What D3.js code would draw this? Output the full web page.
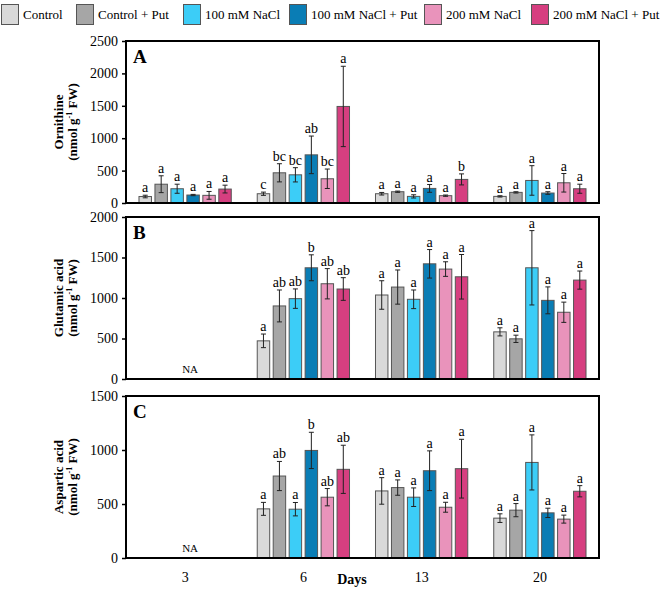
<!DOCTYPE html>
<html>
<head>
<meta charset="utf-8">
<script src="https://cdn.jsdelivr.net/npm/d3@7"></script>
<style>
body { margin: 0; background: #fff; }
text { font-family: "Liberation Serif", "Times New Roman", serif; fill: #000; }
</style>
</head>
<body>
<div class="chart"></div>
<script>
var days = ["3", "6", "13", "20"];
var treatments = ["Control", "Control + Put", "100 mM NaCl", "100 mM NaCl + Put", "200 mM NaCl", "200 mM NaCl + Put"];
var colors = ["#d9d9d9", "#a6a6a6", "#3ccdf7", "#0a7db5", "#e993bb", "#d63f80"];

// one row per day, one value per treatment (null = not analysed)
var ornithineMean = [
  [100, 290, 220, 123, 118, 215],
  [143, 466, 435, 743, 374, 1490],
  [143, 174, 102, 225, 113, 364],
  [102, 164, 348, 154, 312, 220]
];
var ornithineErr = [
  [20, 130, 70, 10, 60, 60],
  [25, 140, 110, 290, 150, 620],
  [20, 10, 25, 60, 10, 85],
  [10, 10, 228, 20, 143, 70]
];
var ornithineLetters = [
  ["a", "a", "a", "a", "a", "a"],
  ["c", "bc", "bc", "ab", "bc", "a"],
  ["a", "a", "a", "a", "a", "b"],
  ["a", "a", "a", "a", "a", "a"]
];

var glutamicMean = [
  null,
  [471, 902, 992, 1373, 1176, 1111],
  [1037, 1135, 984, 1422, 1357, 1262],
  [582, 496, 1373, 971, 824, 1221]
];
var glutamicErr = [
  null,
  [84, 197, 120, 160, 187, 140],
  [176, 211, 115, 176, 90, 275],
  [50, 45, 459, 166, 125, 112]
];
var glutamicLetters = [
  null,
  ["a", "ab", "ab", "b", "ab", "ab"],
  ["a", "a", "a", "a", "a", "a"],
  ["a", "a", "a", "a", "a", "a"]
];

var asparticMean = [
  null,
  [455, 759, 452, 996, 563, 821],
  [621, 652, 563, 808, 470, 827],
  [369, 443, 885, 418, 360, 618]
];
var asparticErr = [
  null,
  [60, 135, 62, 168, 80, 223],
  [123, 71, 86, 184, 46, 272],
  [40, 61, 255, 43, 37, 52]
];
var asparticLetters = [
  null,
  ["a", "ab", "a", "b", "ab", "ab"],
  ["a", "a", "a", "a", "a", "a"],
  ["a", "a", "a", "a", "a", "a"]
];

var panels = [
  {id: "A", title: "Ornithine", max: 2500, top: 41, bottom: 203, mean: ornithineMean, err: ornithineErr, letters: ornithineLetters},
  {id: "B", title: "Glutamic acid", max: 2000, top: 217, bottom: 379, mean: glutamicMean, err: glutamicErr, letters: glutamicLetters},
  {id: "C", title: "Aspartic acid", max: 1500, top: 396, bottom: 558, mean: asparticMean, err: asparticErr, letters: asparticLetters}
];

var width = 661,
    height = 589,
    left = 126,
    right = 599;

var svg = d3.select(".chart").append("svg")
    .attr("width", width)
    .attr("height", height);

var x0 = d3.scaleBand()
    .domain(days)
    .range([left, right])
    .paddingInner(0.19)
    .paddingOuter(0.095);

var x1 = d3.scaleBand()
    .domain(treatments)
    .range([0, x0.bandwidth()])
    .paddingInner(0.22)
    .paddingOuter(0.11);

// legend
var legendX = [1, 76, 183, 289, 424, 531];
var legend = svg.append("g").attr("class", "legend");
treatments.forEach(function(t, i) {
  legend.append("rect")
    .attr("x", legendX[i] + 0.5).attr("y", 4.5)
    .attr("width", 17).attr("height", 20)
    .attr("fill", colors[i])
    .attr("stroke", "#555").attr("stroke-width", 1);
  legend.append("text")
    .attr("x", legendX[i] + 22).attr("y", 19)
    .attr("font-size", 13)
    .text(t);
});

panels.forEach(function(p, pi) {
  var y = d3.scaleLinear().domain([0, p.max]).range([p.bottom, p.top]);
  var g = svg.append("g").attr("class", "panel");

  g.append("g")
    .attr("transform", "translate(" + left + ",0)")
    .call(d3.axisLeft(y).tickValues(d3.range(0, p.max + 1, 500)).tickFormat(d3.format("d"))
      .tickSize(4).tickSizeOuter(0).tickPadding(4))
    .call(function(a) { a.select(".domain").remove(); })
    .call(function(a) {
      a.selectAll("text").attr("font-size", 14).attr("font-family", "Liberation Serif").attr("fill", "#000");
      a.selectAll("line").attr("stroke", "#000").attr("stroke-width", 1.5);
    });

  days.forEach(function(day, di) {
    var gx = x0(day);
    if (p.mean[di] === null) {
      g.append("text")
        .attr("x", gx + x0.bandwidth() / 2 + 5)
        .attr("y", p.bottom - 6)
        .attr("text-anchor", "middle")
        .attr("font-size", 11)
        .text("NA");
      return;
    }
    treatments.forEach(function(t, ti) {
      var v = p.mean[di][ti], e = p.err[di][ti];
      var bx = gx + x1(t), bw = x1.bandwidth(), cx = bx + bw / 2;
      g.append("rect")
        .attr("x", bx).attr("y", y(v))
        .attr("width", bw).attr("height", p.bottom - y(v))
        .attr("fill", colors[ti])
        .attr("stroke", "#555").attr("stroke-width", 1);
      g.append("path")
        .attr("d", "M" + cx + "," + y(v + e) + "V" + y(v - e) +
                   "M" + (cx - 2.5) + "," + y(v + e) + "h5" +
                   "M" + (cx - 2.5) + "," + y(v - e) + "h5")
        .attr("stroke", "#222").attr("stroke-width", 1).attr("fill", "none");
      g.append("text")
        .attr("x", cx).attr("y", y(v + e) - 3)
        .attr("text-anchor", "middle")
        .attr("font-size", 14)
        .text(p.letters[di][ti]);
    });
  });

  // frame
  g.append("rect")
    .attr("x", left).attr("y", p.top)
    .attr("width", right - left).attr("height", p.bottom - p.top)
    .attr("fill", "none").attr("stroke", "#000").attr("stroke-width", 2);

  g.append("text")
    .attr("x", left + 7).attr("y", p.top + 22)
    .attr("font-size", 19).attr("font-weight", "bold")
    .text(p.id);

  var cy = (p.top + p.bottom) / 2;
  var title = g.append("text")
    .attr("transform", "translate(63," + cy + ") rotate(-90)")
    .attr("text-anchor", "middle")
    .attr("font-size", 13).attr("font-weight", "bold");
  title.append("tspan").attr("x", 0).attr("y", 0).text(p.title);
  var l2 = g.append("text")
    .attr("transform", "translate(77," + cy + ") rotate(-90)")
    .attr("text-anchor", "middle")
    .attr("font-size", 13).attr("font-weight", "bold");
  l2.append("tspan").text("(nmol g");
  l2.append("tspan").attr("font-size", 8).attr("dy", -5).text("-1");
  l2.append("tspan").attr("dy", 5).text(" FW)");

  if (pi === panels.length - 1) {
    g.append("g")
      .attr("transform", "translate(0," + p.bottom + ")")
      .call(d3.axisBottom(x0).tickSize(0).tickPadding(14))
      .call(function(a) { a.select(".domain").remove(); })
      .call(function(a) {
        a.selectAll("text").attr("font-size", 14).attr("font-family", "Liberation Serif").attr("fill", "#000");
      });
    g.append("text")
      .attr("x", 352).attr("y", 584)
      .attr("text-anchor", "middle")
      .attr("font-size", 14).attr("font-weight", "bold")
      .text("Days");
  }
});
</script>
</body>
</html>
